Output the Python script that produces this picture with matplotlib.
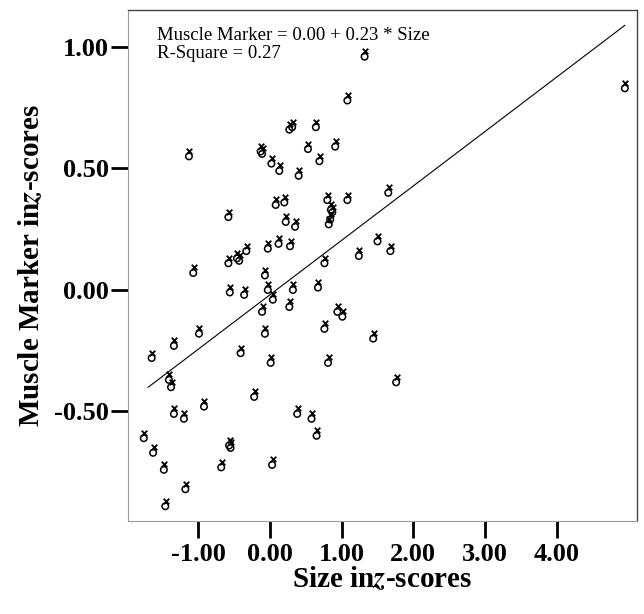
import matplotlib
matplotlib.use("Agg")
import matplotlib.pyplot as plt
import matplotlib.transforms as mtransforms
import numpy as np

plt.rcParams['font.family'] = ['Liberation Serif', 'DejaVu Serif']
plt.rcParams['mathtext.fontset'] = 'stix'

# Data (z-scores)
SIZE_Z = [1.32, 1.08, 0.27, 0.31, 0.64, -1.13, -0.13, -0.11, 0.53, 0.91,
          0.02, 0.13, 0.69, 0.40, 0.08, 0.20, 0.80, 1.08, 0.85, 0.87,
          0.84, 0.82, 0.22, 0.35, -0.58, 1.50, -0.03, 0.12, 0.28, -0.33,
          -0.46, -0.43, -0.58, 1.24, 0.76, -1.07, -0.07, -0.56, -0.36, -0.03,
          0.32, 0.67, 0.04, -0.11, 0.27, 0.94, 1.01, -0.99, -0.07, 0.76,
          1.44, -1.34, -1.65, -0.41, 0.01, 0.81, -1.41, -1.38, -0.22, 1.68,
          1.65, 1.76, 4.95, -0.92, -1.34, -1.20, 0.38, 0.58, 0.65, -1.76,
          -1.63, -0.57, -0.55, -1.48, -0.68, 0.03, -1.18, -1.46]
MARKER_Z = [0.97, 0.79, 0.67, 0.68, 0.68, 0.56, 0.58, 0.57, 0.59, 0.60,
            0.53, 0.50, 0.54, 0.48, 0.36, 0.37, 0.38, 0.38, 0.34, 0.33,
            0.30, 0.28, 0.29, 0.27, 0.31, 0.21, 0.18, 0.20, 0.19, 0.17,
            0.14, 0.13, 0.12, 0.15, 0.12, 0.08, 0.07, 0.00, -0.01, 0.01,
            0.01, 0.02, -0.03, -0.08, -0.06, -0.08, -0.10, -0.17, -0.17, -0.15,
            -0.19, -0.22, -0.27, -0.25, -0.29, -0.29, -0.36, -0.39, -0.43, 0.17,
            0.41, -0.37, 0.84, -0.47, -0.50, -0.52, -0.50, -0.52, -0.59, -0.60,
            -0.66, -0.63, -0.64, -0.73, -0.72, -0.71, -0.81, -0.88]

# fit line as drawn
LINE_INTERCEPT = -0.02
LINE_SLOPE = 0.224
EQUATION = "Muscle Marker = 0.00 + 0.23 * Size"
R_SQUARE = "R-Square = 0.27"

X_TICKS = [-1.0, 0.0, 1.0, 2.0, 3.0, 4.0]
Y_TICKS = [-0.5, 0.0, 0.5, 1.0]

fig = plt.figure(figsize=(6.44, 6.14), dpi=100, facecolor='white')
ax = fig.add_axes([128/644, 1 - 521/614, 509/644, 511/614])

x = np.array(SIZE_Z)
y = np.array(MARKER_Z)

# SPSS-like glyph: small open circle with an x above it
circ_tr = mtransforms.offset_copy(ax.transData, fig=fig, x=0, y=-2.5, units='dots')
cross_tr = mtransforms.offset_copy(ax.transData, fig=fig, x=0.5, y=3, units='dots')
ax.scatter(x, y, s=22, marker='o', facecolors='none', edgecolors='black',
           linewidths=1.1, transform=circ_tr, zorder=3)
ax.scatter(x, y, s=16, marker='x', color='black', linewidths=1.3,
           transform=cross_tr, zorder=3)

# regression line across the data range
xs = np.array([-1.70, x.max()])
ax.plot(xs, LINE_INTERCEPT + LINE_SLOPE * xs, color='black', lw=0.8, zorder=2)

ax.text(0.057, 0.967, EQUATION + "\n" + R_SQUARE, transform=ax.transAxes,
        fontsize=13.5, va='top', ha='left', linespacing=1.1)

ax.set_xlim(-1.98, 5.12)
ax.set_ylim(-0.951, 1.152)
ax.set_xticks(X_TICKS)
ax.set_yticks(Y_TICKS)
ax.set_xticklabels([f"{v:.2f}" for v in X_TICKS])
ax.set_yticklabels([f"{v:.2f}" for v in Y_TICKS])
for lab in ax.get_xticklabels() + ax.get_yticklabels():
    lab.set_fontweight('bold')
    lab.set_fontsize(19)
ax.tick_params(axis='x', direction='out', length=12, width=2, pad=4)
ax.tick_params(axis='y', direction='out', length=12, width=2, pad=2)

for side in ['top', 'right']:
    ax.spines[side].set_color('#444444')
    ax.spines[side].set_linewidth(1.0)
for side in ['left', 'bottom']:
    ax.spines[side].set_color('#9a9a9a')
    ax.spines[side].set_linewidth(0.8)
    ax.spines[side].set_linestyle((0, (3, 1)))

ax.set_xlabel(r"Size in$\mathbfit{z}$-scores", fontsize=21, fontweight='bold', labelpad=-1)
ax.set_ylabel(r"Muscle Marker in$\mathbfit{z}$-scores", fontsize=21, fontweight='bold', labelpad=6)

fig.savefig("out.png", dpi=100, facecolor='white')
